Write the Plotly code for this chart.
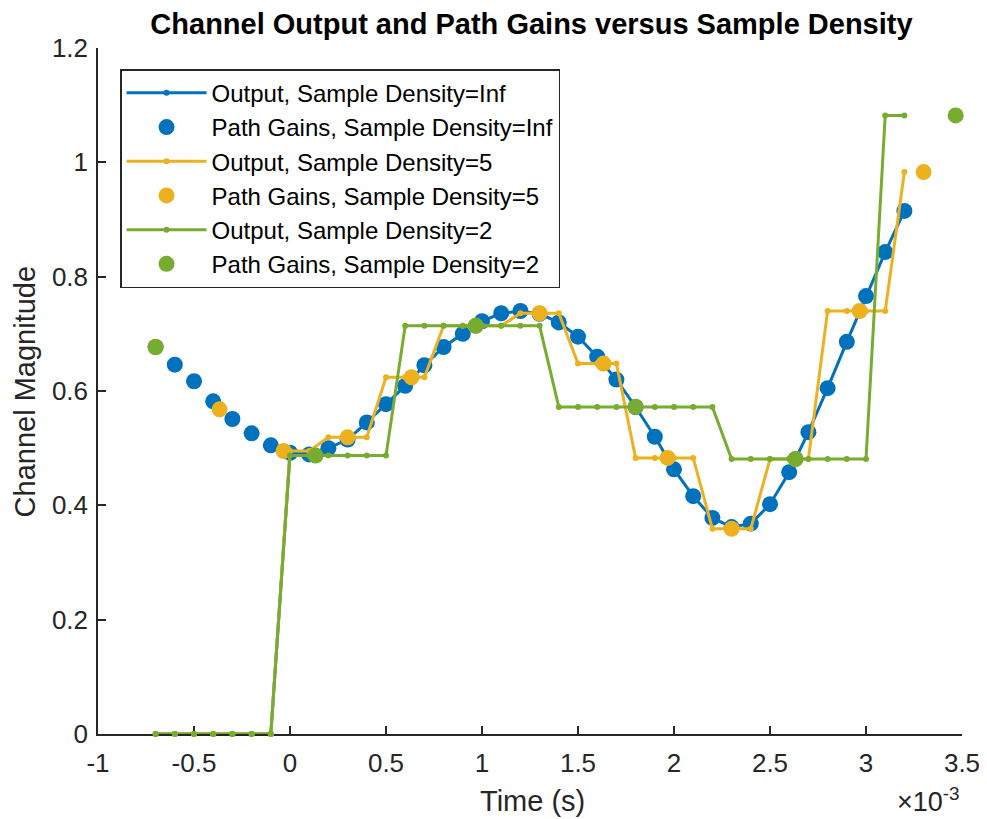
import plotly.graph_objects as go

# ---- data (time in milliseconds, i.e. seconds x 1e-3) ----
time_out = [-0.7, -0.6, -0.5, -0.4, -0.3, -0.2, -0.1,
            0.0, 0.1, 0.2, 0.3, 0.4, 0.5, 0.6, 0.7, 0.8, 0.9,
            1.0, 1.1, 1.2, 1.3, 1.4, 1.5, 1.6, 1.7, 1.8, 1.9,
            2.0, 2.1, 2.2, 2.3, 2.4, 2.5, 2.6, 2.7, 2.8, 2.9,
            3.0, 3.1, 3.2]

out_inf = [0, 0, 0, 0, 0, 0, 0,
           0.492, 0.489, 0.500, 0.515, 0.545, 0.577, 0.609, 0.645, 0.677, 0.700,
           0.722, 0.736, 0.740, 0.735, 0.720, 0.695, 0.660, 0.620, 0.572, 0.520,
           0.463, 0.416, 0.378, 0.362, 0.368, 0.402, 0.458, 0.528, 0.605, 0.686,
           0.766, 0.843, 0.915]

gain_inf = [0.677, 0.646, 0.617, 0.582, 0.551, 0.526, 0.505,
            0.492, 0.489, 0.500, 0.515, 0.545, 0.577, 0.609, 0.645, 0.677, 0.700,
            0.722, 0.736, 0.740, 0.735, 0.720, 0.695, 0.660, 0.620, 0.572, 0.520,
            0.463, 0.416, 0.378, 0.362, 0.368, 0.402, 0.458, 0.528, 0.605, 0.686,
            0.766, 0.843, 0.915]

out_sd5 = [0, 0, 0, 0, 0, 0, 0,
           0.495, 0.495, 0.519, 0.519, 0.519, 0.624, 0.624, 0.624, 0.714, 0.714,
           0.714, 0.714, 0.736, 0.736, 0.736, 0.648, 0.648, 0.648, 0.483, 0.483,
           0.483, 0.483, 0.359, 0.359, 0.359, 0.481, 0.481, 0.481, 0.740, 0.740,
           0.740, 0.740, 0.983]

time_gain_sd5 = [-0.7, -0.367, -0.033, 0.3, 0.633, 0.967, 1.3, 1.633, 1.967,
                 2.3, 2.633, 2.967, 3.3]
gain_sd5 = [0.677, 0.568, 0.495, 0.519, 0.624, 0.714, 0.736, 0.648, 0.483,
            0.359, 0.481, 0.740, 0.983]

out_sd2 = [0, 0, 0, 0, 0, 0, 0,
           0.487, 0.487, 0.487, 0.487, 0.487, 0.487, 0.714, 0.714, 0.714, 0.714,
           0.714, 0.714, 0.714, 0.714, 0.572, 0.572, 0.572, 0.572, 0.572, 0.572,
           0.572, 0.572, 0.572, 0.481, 0.481, 0.481, 0.481, 0.481, 0.481, 0.481,
           0.481, 1.082, 1.082]

time_gain_sd2 = [-0.7, 0.133, 0.967, 1.8, 2.633, 3.467]
gain_sd2 = [0.677, 0.487, 0.714, 0.572, 0.481, 1.082]

x_ticks = [-1, -0.5, 0, 0.5, 1, 1.5, 2, 2.5, 3, 3.5]
x_tick_labels = ["-1", "-0.5", "0", "0.5", "1", "1.5", "2", "2.5", "3", "3.5"]
y_ticks = [0, 0.2, 0.4, 0.6, 0.8, 1.0, 1.2]
y_tick_labels = ["0", "0.2", "0.4", "0.6", "0.8", "1", "1.2"]

BLUE = "#0072BD"
YELLOW = "#EDB120"
GREEN = "#77AC30"
AXC = "#262626"
FONT = "Liberation Sans, Arial, Helvetica, sans-serif"

fig = go.Figure()

def add_output(x, y, color, name):
    fig.add_trace(go.Scatter(x=x, y=y, mode="lines+markers", name=name,
                             line=dict(color=color, width=3),
                             marker=dict(color=color, size=6, line=dict(width=0)),
                             cliponaxis=False))

def add_gain(x, y, color, name):
    fig.add_trace(go.Scatter(x=x, y=y, mode="markers", name=name,
                             marker=dict(color=color, size=16, line=dict(width=0)),
                             cliponaxis=False))

add_output(time_out, out_inf, BLUE, "Output, Sample Density=Inf")
add_gain(time_out, gain_inf, BLUE, "Path Gains, Sample Density=Inf")
add_output(time_out, out_sd5, YELLOW, "Output, Sample Density=5")
add_gain(time_gain_sd5, gain_sd5, YELLOW, "Path Gains, Sample Density=5")
add_output(time_out, out_sd2, GREEN, "Output, Sample Density=2")
add_gain(time_gain_sd2, gain_sd2, GREEN, "Path Gains, Sample Density=2")

# the page places the figure 8px in from the top-left corner
fig.update_layout(
    width=979, height=811,
    margin=dict(l=90, r=25, t=40, b=85, autoexpand=False),
    paper_bgcolor="white", plot_bgcolor="white",
    font=dict(family=FONT, color=AXC),
    title=dict(text="Channel Output and Path Gains versus Sample Density",
               x=0.5347, xanchor="center", y=0.9808, yanchor="middle",
               yref="container",
               font=dict(size=29, color="black", weight="bold", family=FONT)),
    showlegend=True,
    legend=dict(x=0.0255, y=0.969, xanchor="left", yanchor="top",
                bgcolor="white", bordercolor=AXC, borderwidth=1.5,
                font=dict(size=24, color="black", family=FONT),
                itemwidth=80, tracegroupgap=0),
)

fig.update_xaxes(range=[-1, 3.5], tickvals=x_ticks, ticktext=x_tick_labels,
                 showgrid=False, zeroline=False, showline=True, linecolor=AXC,
                 linewidth=1.5, ticks="inside", ticklen=8, tickcolor=AXC,
                 tickwidth=1.5, tickfont=dict(size=26, color=AXC),
                 ticklabelstandoff=5, automargin=False,
                 layer="below traces")
fig.update_yaxes(range=[0, 1.2], tickvals=y_ticks, ticktext=y_tick_labels,
                 showgrid=False, zeroline=False, showline=True, linecolor=AXC,
                 linewidth=1.5, ticks="inside", ticklen=8, tickcolor=AXC,
                 tickwidth=1.5, tickfont=dict(size=26, color=AXC),
                 ticklabelstandoff=3, automargin=False,
                 layer="below traces")

# axis titles
fig.add_annotation(text="Time (s)", xref="paper", yref="paper",
                   x=0.503, y=-0.097, xanchor="center", yanchor="middle",
                   showarrow=False, font=dict(size=29, color=AXC, family=FONT))
fig.add_annotation(text="Channel Magnitude", xref="paper", yref="paper",
                   x=-0.084, y=0.5, xanchor="center", yanchor="middle",
                   textangle=-90, showarrow=False,
                   font=dict(size=29, color=AXC, family=FONT))
fig.add_annotation(text="\u00d710<sup>-3</sup>", xref="paper", yref="paper",
                   x=1.0, y=-0.068, xanchor="right", yanchor="top",
                   showarrow=False, font=dict(size=27, color=AXC, family=FONT))

fig.write_html("out.html")
